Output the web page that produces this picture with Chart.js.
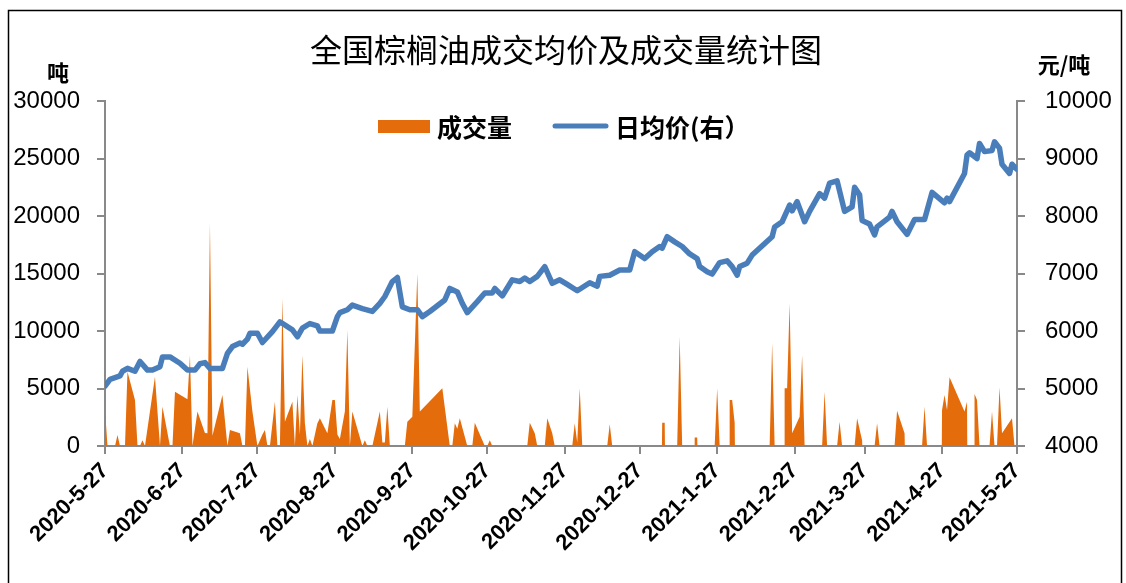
<!DOCTYPE html>
<html>
<head>
<meta charset="utf-8">
<script src="https://cdn.jsdelivr.net/npm/chart.js@4.4.1/dist/chart.umd.min.js"></script>
<style>
    html, body { margin: 0; padding: 0; background: #fff; }
    #canvasDev { width: 1126px; height: 583px; }
</style>
</head>
<body>
<div id="canvasDev"><canvas id="canvas" width="1126" height="583"></canvas></div>
<script>
// x = days since 2020-5-27
const tickDays = [0, 31, 61, 92, 123, 153, 184, 214, 245, 276, 304, 335, 365];
const tickLabels = ['2020-5-27', '2020-6-27', '2020-7-27', '2020-8-27', '2020-9-27', '2020-10-27',
    '2020-11-27', '2020-12-27', '2021-1-27', '2021-2-27', '2021-3-27', '2021-4-27', '2021-5-27'];

// 日均价 (元/吨), [day, price]
const priceData = [
    [0,5040],[2,5160],[6,5220],[7,5300],[9,5350],[12,5300],[14,5470],[17,5320],[19,5320],[22,5380],
    [23,5550],[26,5550],[30,5440],[33,5320],[36,5320],[38,5430],[40,5450],[42,5350],[47,5350],[49,5610],
    [51,5730],[54,5790],[55,5770],[57,5860],[58,5960],[61,5960],[63,5800],[67,5990],[70,6160],[75,6020],
    [77,5900],[79,6050],[82,6130],[85,6090],[86,6000],[91,6000],[93,6250],[94,6320],[97,6370],[99,6450],
    [103,6390],[107,6340],[110,6480],[112,6600],[115,6860],[117,6930],[119,6420],[122,6370],[125,6370],[127,6250],
    [130,6340],[136,6540],[138,6740],[141,6680],[143,6480],[145,6320],[149,6510],[152,6660],[155,6660],[156,6740],
    [159,6610],[163,6890],[166,6860],[168,6920],[170,6860],[173,6950],[176,7120],[179,6830],[182,6890],[185,6810],
    [189,6700],[194,6840],[197,6780],[198,6950],[202,6970],[206,7060],[210,7060],[212,7380],[216,7260],[219,7380],
    [222,7470],[223,7440],[225,7640],[228,7550],[231,7470],[234,7340],[237,7260],[238,7120],[241,7030],[243,6990],
    [246,7190],[249,7220],[251,7120],[253,6970],[254,7120],[257,7180],[259,7320],[267,7640],[268,7810],[271,7900],
    [274,8190],[275,8090],[277,8250],[280,7900],[282,8080],[286,8390],[288,8310],[290,8570],[293,8610],[296,8080],
    [299,8160],[300,8500],[302,8370],[303,7920],[306,7860],[308,7670],[309,7810],[314,7980],[315,8080],[317,7900],
    [321,7680],[324,7940],[328,7940],[331,8410],[336,8230],[337,8310],[338,8250],[344,8740],[345,9060],[346,9100],
    [349,9000],[350,9260],[352,9120],[355,9140],[356,9290],[358,9180],[359,8900],[362,8740],[363,8900],[365,8810]
];

// 成交量 (吨), [day, volume]
const volumeData = [
    [0,3130],[1,0],[4,0],[5,950],[6,0],[8,0],[9,6460],[12,4000],[13,0],[14,0],
    [15,500],[16,0],[20,6030],[22,0],[23,3420],[26,0],[27,0],[28,4720],[33,4060],[34,7900],
    [35,0],[37,2990],[40,1130],[41,1100],[42,19360],[43,900],[47,4430],[49,0],[50,1390],[54,1100],
    [55,0],[56,0],[57,6900],[59,2990],[61,0],[63,1000],[64,1390],[65,0],[66,0],[68,3850],
    [69,0],[70,0],[71,12840],[72,2110],[75,3850],[76,0],[77,4430],[78,1000],[79,7900],[80,1970],
    [81,0],[82,600],[83,0],[85,1970],[86,2410],[89,1100],[91,4000],[92,4000],[93,1000],[94,600],
    [96,2990],[97,10090],[98,0],[99,2990],[103,0],[104,500],[105,0],[107,0],[110,2990],[111,300],
    [112,300],[113,3420],[114,0],[120,0],[121,2110],[123,2550],[125,15020],[126,2990],[135,5020],[138,0],
    [139,0],[140,1970],[141,1500],[142,2410],[145,0],[147,0],[148,2030],[152,0],[153,0],[154,500],
    [155,0],[169,0],[170,2030],[172,1100],[173,0],[176,0],[177,2410],[179,1100],[180,0],[187,0],
    [188,1970],[189,300],[190,5020],[191,0],[201,0],[202,1900],[203,0],[222.9,0],[223,2030],[224,2030],
    [224.1,0],[229,0],[230,9500],[231,0],[235.9,0],[236,750],[237,750],[237.1,0],[244,0],[245,5020],
    [246,0],[249.9,0],[250,4000],[251,4000],[252,2030],[252.1,0],[266,0],[267,8930],[268,0],[271.9,0],
    [272,5020],[273,5020],[274,12410],[275,1100],[278,2550],[279,7900],[280,0],[287,0],[288,4720],[289,0],
    [293,0],[294,2110],[295,0],[300,0],[301,2410],[303,500],[303.1,0],[308,0],[309,1970],[310,0],
    [316,0],[317,3070],[320,1100],[320.1,0],[327,0],[328,3420],[329,0],[334.9,0],[335,3130],[336,4430],
    [337,3130],[338,5970],[344,3000],[345,3850],[345.1,0],[347.9,0],[348,4520],[349,4000],[350,0],[354,0],
    [355,2990],[356,0],[357,0],[358,5100],[359,1100],[363,2410],[364,0],[365,0]
];

const axisColor = '#898989';
const orange = '#e46c0a';
const blue = '#4a7ebb';

// title, units, legend and frame drawn on top
const decor = {
    id: 'decor',
    afterDraw(chart) {
        const ctx = chart.ctx;
        ctx.save();
        ctx.fillStyle = '#000';
        ctx.textBaseline = 'middle';
        ctx.textAlign = 'center';
        ctx.font = '32px "Noto Sans CJK SC"';
        ctx.fillText('全国棕榈油成交均价及成交量统计图', 566, 50);

        ctx.font = 'bold 22px "Noto Sans CJK SC"';
        ctx.fillText('吨', 58, 73);
        ctx.fillText('元/吨', 1064, 65);

        // legend
        ctx.fillStyle = orange;
        ctx.fillRect(378, 120, 52, 13);
        ctx.strokeStyle = blue;
        ctx.lineWidth = 5;
        ctx.lineCap = 'round';
        ctx.beginPath();
        ctx.moveTo(555, 126);
        ctx.lineTo(606, 126);
        ctx.stroke();
        ctx.fillStyle = '#000';
        ctx.textAlign = 'left';
        ctx.font = 'bold 25px "Noto Sans CJK SC"';
        ctx.fillText('成交量', 437, 127);
        ctx.fillText('日均价(右）', 615, 127);

        // frame
        ctx.strokeStyle = '#000';
        ctx.lineWidth = 1.5;
        ctx.lineCap = 'butt';
        ctx.strokeRect(8.5, 10.5, 1113, 590);
        ctx.restore();
    }
};

const ctx = document.getElementById('canvas').getContext('2d');
const myChart = new Chart(ctx, {
    type: 'line',
    data: {
        datasets: [{
            label: '日均价(右）',
            data: priceData.map(p => ({x: p[0], y: p[1]})),
            yAxisID: 'y1',
            borderColor: blue,
            borderWidth: 5.5,
            borderJoinStyle: 'round',
            borderCapStyle: 'round',
            pointRadius: 0,
            tension: 0,
            fill: false,
            order: 0
        }, {
            label: '成交量',
            data: volumeData.map(p => ({x: p[0], y: p[1]})),
            yAxisID: 'y',
            backgroundColor: orange,
            borderColor: orange,
            borderWidth: 0,
            pointRadius: 0,
            tension: 0,
            fill: 'origin',
            order: 1
        }]
    },
    options: {
        responsive: false,
        animation: false,
        devicePixelRatio: 1,
        layout: { padding: { top: 101, left: 0, right: 0, bottom: 0 } },
        plugins: {
            legend: { display: false },
            tooltip: { enabled: false }
        },
        scales: {
            x: {
                type: 'linear',
                min: 0,
                max: 365,
                afterBuildTicks: s => { s.ticks = tickDays.map(v => ({value: v})); },
                afterFit: s => { s.height = 137; },
                ticks: {
                    autoSkip: false,
                    minRotation: 45,
                    maxRotation: 45,
                    padding: 4,
                    color: '#000',
                    font: { family: 'Liberation Sans', size: 22, weight: 'bold' },
                    callback: (v, i) => tickLabels[i]
                },
                grid: { drawOnChartArea: false, tickLength: 8, color: axisColor, lineWidth: 2 },
                border: { color: axisColor, width: 2 }
            },
            y: {
                position: 'left',
                min: 0,
                max: 30000,
                afterFit: s => { s.width = 105; },
                ticks: {
                    stepSize: 5000,
                    padding: 17,
                    color: '#000',
                    font: { family: 'Liberation Sans', size: 24 },
                    callback: v => String(v)
                },
                grid: { drawOnChartArea: false, tickLength: 8, color: axisColor, lineWidth: 2 },
                border: { color: axisColor, width: 2 }
            },
            y1: {
                position: 'right',
                min: 4000,
                max: 10000,
                afterFit: s => { s.width = 109; },
                ticks: {
                    stepSize: 1000,
                    padding: 20,
                    color: '#000',
                    font: { family: 'Liberation Sans', size: 24 },
                    callback: v => String(v)
                },
                grid: { drawOnChartArea: false, tickLength: 8, color: axisColor, lineWidth: 2 },
                border: { color: axisColor, width: 2 }
            }
        }
    },
    plugins: [decor]
});
</script>
</body>
</html>
